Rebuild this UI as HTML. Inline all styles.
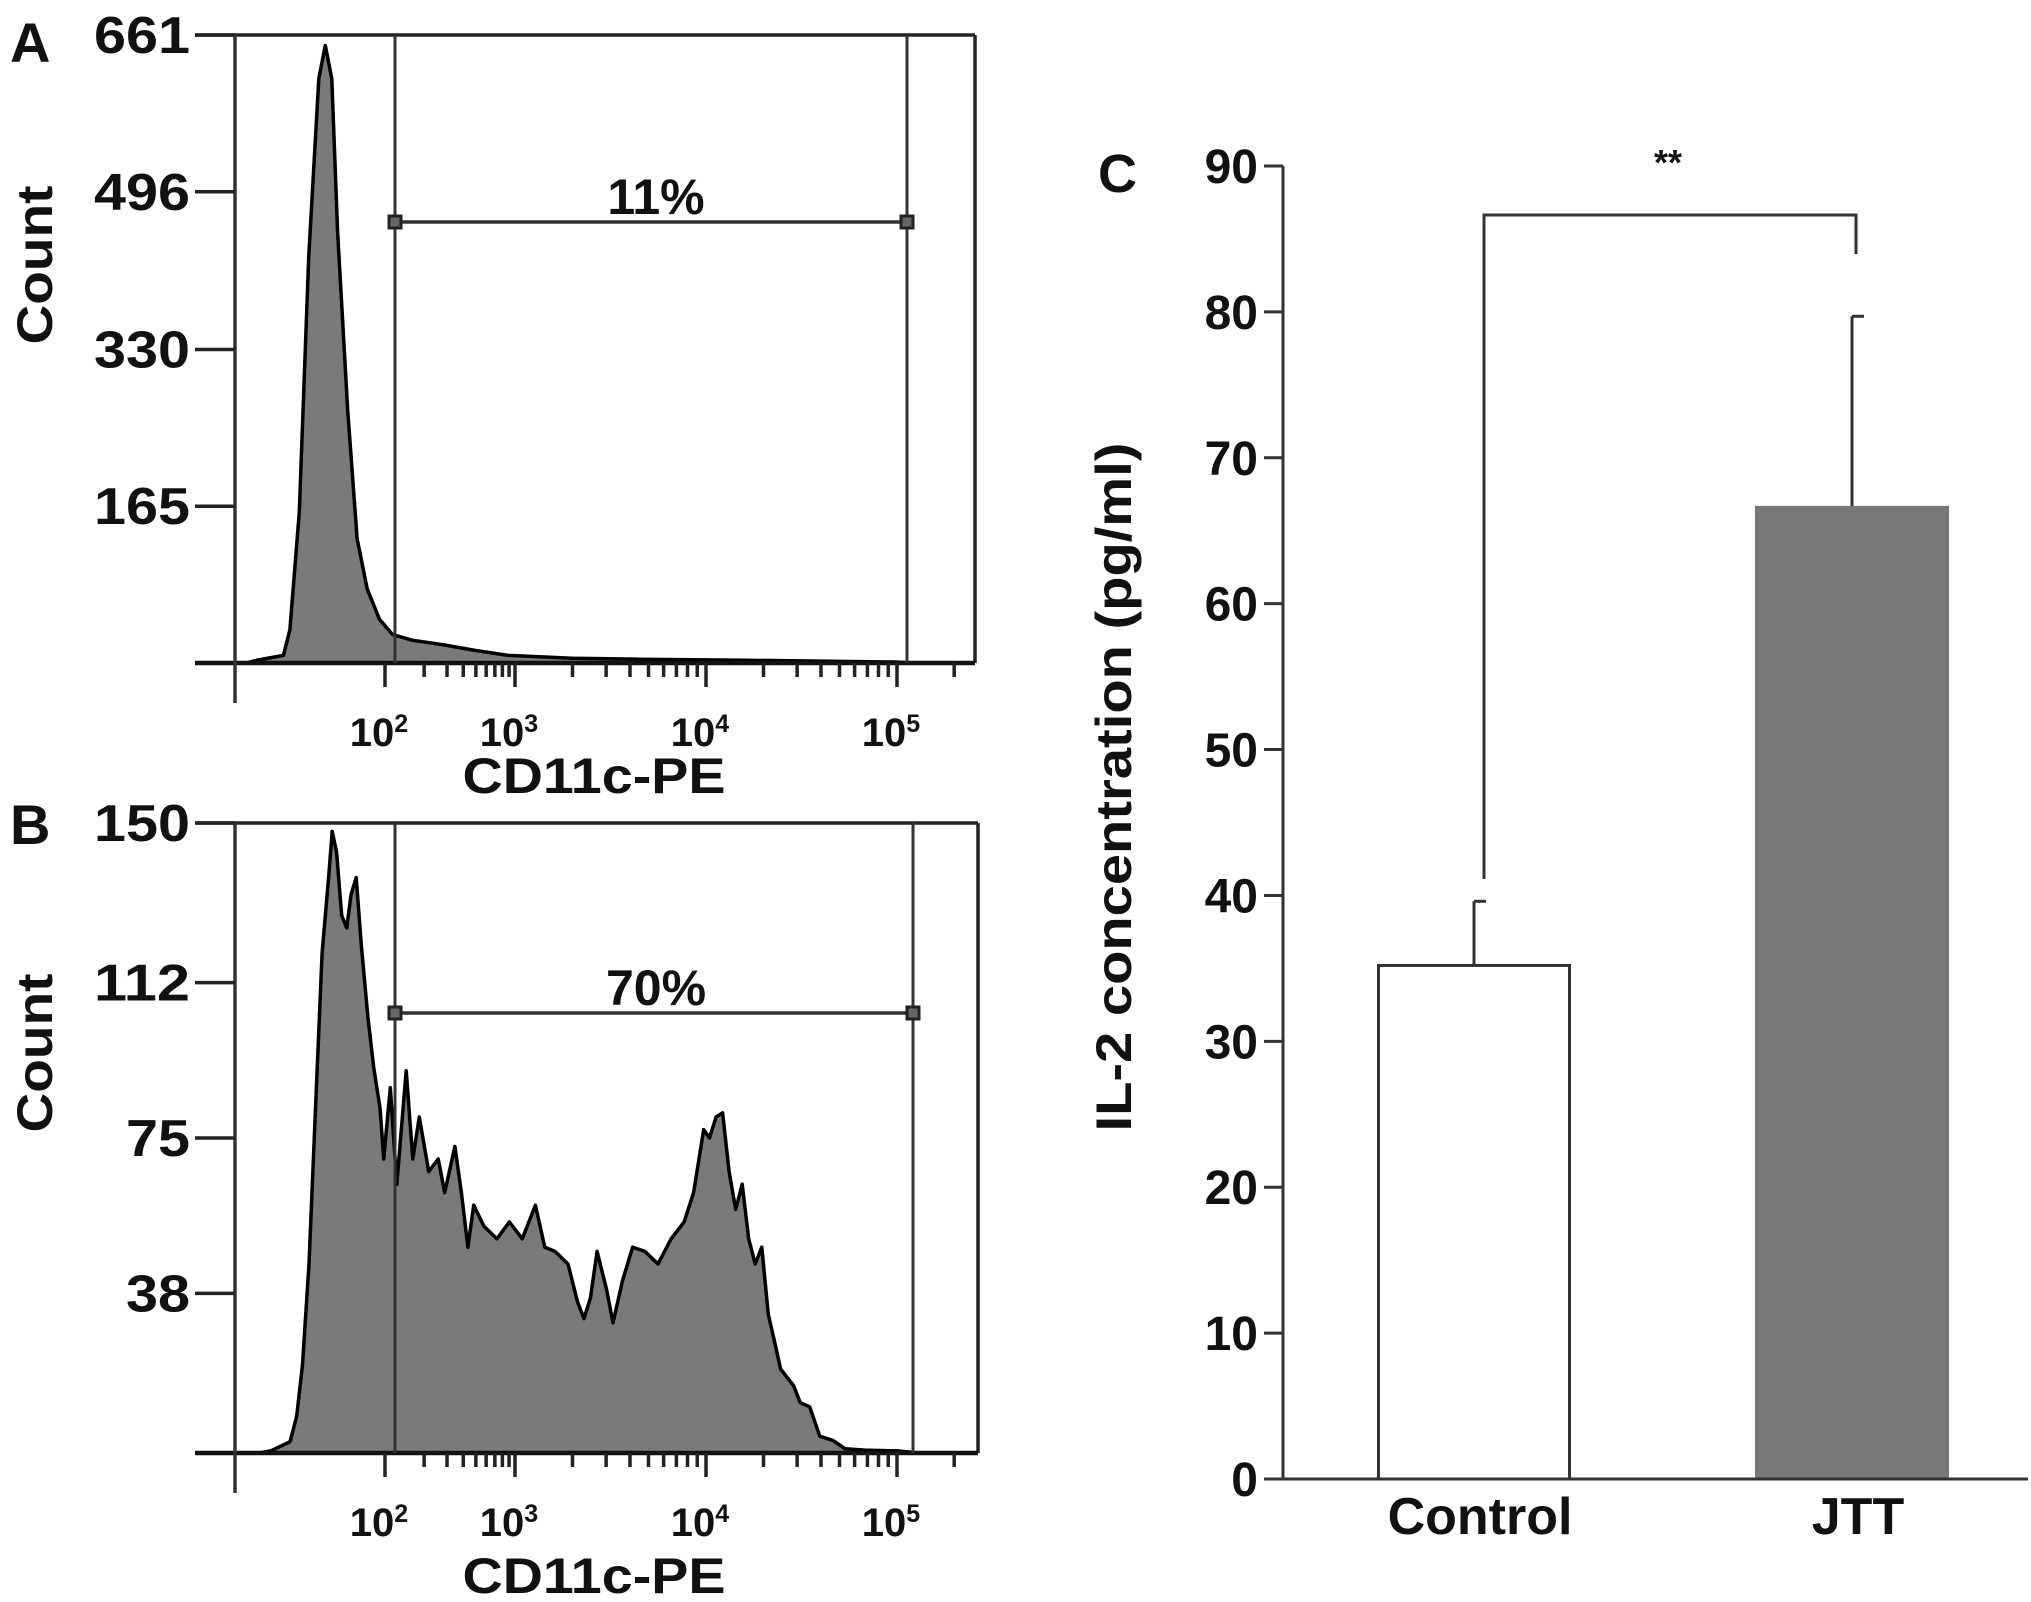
<!DOCTYPE html>
<html><head><meta charset="utf-8"><style>
html,body{margin:0;padding:0;background:#fff;}
svg{display:block;font-family:"Liberation Sans",Arial,sans-serif;font-weight:bold;}
</style></head><body>
<svg id="fig" width="2031" height="1602" viewBox="0 0 2031 1602" xmlns="http://www.w3.org/2000/svg"></svg>
<script>
// ---- Panel A data (channel 0-1023, count) ----
const aChannel=[31,67,76,89,102,116,125,134,142,156,169,183,200,218,245,289,334,378,467,557,690,913];
const aCount=[3,8,35,159,427,615,650,615,454,266,131,78,46,30,24,19,13,8,5,4,3,1];
const aTicks=[165,330,496,661];
// ---- Panel B data ----
const bChannel=[49,76,85,93,102,111,120,129,134,140,147,154,160,167,174,183,191,200,205,214,223,236,245,254,267,280,289,303,312,321,329,343,361,378,396,414,427,441,459,472,481,490,499,512,521,534,548,565,583,601,619,632,646,654,663,672,681,690,699,708,717,726,735,743,752,770,779,792,806,824,841,868,913];
const bCount=[0.5,2.7,8.8,21,45,82,119,137,148,143,128,125,133,137,121,104,92,82,70,87,64,91,70,80,67,70,62,73,62,49,59,54,51,55,51,59,49,48,45,36,32,37,48,39,31,41,49,48,45,51,55,62,77,75,80,81,67,58,64,51,45,49,33,27,20,16,12,11,4,3,1,0.7,0.5];
const bTicks=[38,75,112,150];
// ---- Panel C data ----
const cCategories=["Control","JTT"];
const cMeans=[35.2,66.6];
const cErrors=[4.4,13.1];
const cTicks=[0,10,20,30,40,50,60,70,80,90];
const decadeLabels=["2","3","4","5"];

const NS="http://www.w3.org/2000/svg";
const svg=document.getElementById('fig');
function el(tag,attrs,parent){const e=document.createElementNS(NS,tag);for(const k in attrs)e.setAttribute(k,attrs[k]);(parent||svg).appendChild(e);return e;}
function txt(s,attrs,parent){const e=el('text',attrs,parent);e.textContent=s;return e;}

function histPanel(cfg){
  const g=el('g',{});
  
  
  const L=235,R=cfg.right,T=cfg.top,B=cfg.base;
  const xS=ch=>L+ch/1024*(R-L);
  const yS=c=>B-c/cfg.max*(B-T);
  let d='M'+xS(cfg.ch[0]-15)+','+B;
  cfg.ch.forEach((c,i)=>{d+=' L'+xS(c).toFixed(1)+','+yS(cfg.cnt[i]).toFixed(1);});
  d+=' L'+xS(cfg.ch[cfg.ch.length-1]+30)+','+B+' Z';
  const h=el('path',{d:d,fill:'#7a7a7a',stroke:'#000','stroke-width':3.5,'stroke-linejoin':'round'},g);
  
  
  el('line',{x1:195,y1:T,x2:R,y2:T,stroke:'#222','stroke-width':3.5},g);
  el('line',{x1:R,y1:T,x2:R,y2:B,stroke:'#222','stroke-width':3.5},g);
  el('line',{x1:195,y1:B,x2:R,y2:B,stroke:'#111','stroke-width':4.5},g);
  el('line',{x1:L,y1:T,x2:L,y2:B+40,stroke:'#333','stroke-width':3.5},g);
  cfg.ticks.forEach(t=>{
    const y=yS(t);
    el('line',{x1:195,y1:y,x2:L,y2:y,stroke:'#222','stroke-width':3.5},g);
    const tl=txt(String(t),{x:190,y:y+18,'text-anchor':'end','font-size':52,textLength:String(t).length*32,lengthAdjust:'spacingAndGlyphs',fill:'#111'},g);
    
    
  });
  const dec=[[385,515],[515,706],[706,897],[897,1087]];
  dec.forEach((p,i)=>{
    el('line',{x1:p[0],y1:B,x2:p[0],y2:B+24,stroke:'#222','stroke-width':3.5},g);
    for(let k=2;k<=9;k++){const x=p[0]+(p[1]-p[0])*Math.log10(k); if(x<R-5) el('line',{x1:x,y1:B,x2:x,y2:B+14,stroke:'#222','stroke-width':3.5},g);}
    const tl=txt('10',{x:p[0]-6,y:B+83,'text-anchor':'middle','font-size':40,fill:'#111'},g);
    const sup=el('tspan',{dy:-14,'font-size':25},tl);sup.textContent=decadeLabels[i];
    
    
  });
  [395,cfg.gateR].forEach(x=>el('line',{x1:x,y1:T,x2:x,y2:B,stroke:'#333','stroke-width':3},g));
  const gb=el('line',{x1:395,y1:cfg.gateY,x2:cfg.gateR,y2:cfg.gateY,stroke:'#333','stroke-width':3.5},g);
  
  
  [395,cfg.gateR].forEach(x=>el('rect',{x:x-6,y:cfg.gateY-6,width:12,height:12,fill:'#666',stroke:'#222','stroke-width':3},g));
  const pc=txt(cfg.pct,{x:656,y:cfg.gateY-8,'text-anchor':'middle','font-size':50,fill:'#111'},g);
  
  
  const xt=txt('CD11c-PE',{x:594,y:cfg.xtY,'text-anchor':'middle','font-size':50,textLength:263,lengthAdjust:'spacingAndGlyphs',fill:'#111'},g);
  
  
  const yt=txt('Count',{x:0,y:0,'text-anchor':'middle','font-size':50,textLength:159,lengthAdjust:'spacingAndGlyphs',fill:'#111',transform:'translate(52,'+cfg.cy+') rotate(-90)'},g);
  
  
  const pl=txt(cfg.letter,{x:10,y:cfg.letterY,'font-size':56,fill:'#111'},g);
  
  
}
histPanel({name:'panel-a',ch:aChannel,cnt:aCount,ticks:aTicks,max:661,top:35,base:663,right:975,gateR:907,gateY:222,pct:'11%',xtY:793,cy:265,letter:'A',letterY:62});
histPanel({name:'panel-b',ch:bChannel,cnt:bCount,ticks:bTicks,max:150,top:823,base:1453,right:978,gateR:913,gateY:1013,pct:'70%',xtY:1593,cy:1053,letter:'B',letterY:844});

(function(){
  const g=el('g',{});
  
  
  const X0=1283,Y0=1479,Y90=166;
  const yS=v=>Y0-v/90*(Y0-Y90);
  const centers=[1474,1852],bw=191;
  cMeans.forEach((m,i)=>{
    const top=yS(m),err=yS(m+cErrors[i]),cx=centers[i];
    el('line',{x1:cx,y1:top,x2:cx,y2:err,stroke:'#333','stroke-width':3},g);
    el('line',{x1:cx,y1:err,x2:cx+12,y2:err,stroke:'#333','stroke-width':3},g);
    const r=el('rect',{x:cx-bw/2,y:top,width:bw,height:Y0-top,fill:i==0?'#fff':'#787878',stroke:i==0?'#333':'#787878','stroke-width':3},g);
    
    
    const cl=txt(cCategories[i],{x:cx+6,y:1534,'text-anchor':'middle','font-size':52,fill:'#111'},g);
    
    
  });
  el('line',{x1:X0,y1:Y90,x2:X0,y2:Y0,stroke:'#333','stroke-width':3},g);
  el('line',{x1:X0,y1:Y0,x2:2028,y2:Y0,stroke:'#333','stroke-width':3},g);
  cTicks.forEach(t=>{
    const y=yS(t);
    el('line',{x1:1264,y1:y,x2:X0,y2:y,stroke:'#333','stroke-width':3},g);
    const tl=txt(String(t),{x:1258,y:y+17,'text-anchor':'end','font-size':48,fill:'#111'},g);
    
    
  });
  const br=el('polyline',{points:'1484,879 1484,215 1856,215 1856,254',fill:'none',stroke:'#333','stroke-width':3},g);
  
  
  const st=txt('**',{x:1668,y:175,'text-anchor':'middle','font-size':36,fill:'#111'},g);
  
  
  const yt=txt('IL-2 concentration (pg/ml)',{x:0,y:0,'text-anchor':'middle','font-size':50,textLength:689,lengthAdjust:'spacingAndGlyphs',fill:'#111',transform:'translate(1131,787) rotate(-90)'},g);
  
  
  const pl=txt('C',{x:1098,y:192,'font-size':54,fill:'#111'},g);
  
  
})();
</script>
</body></html>
